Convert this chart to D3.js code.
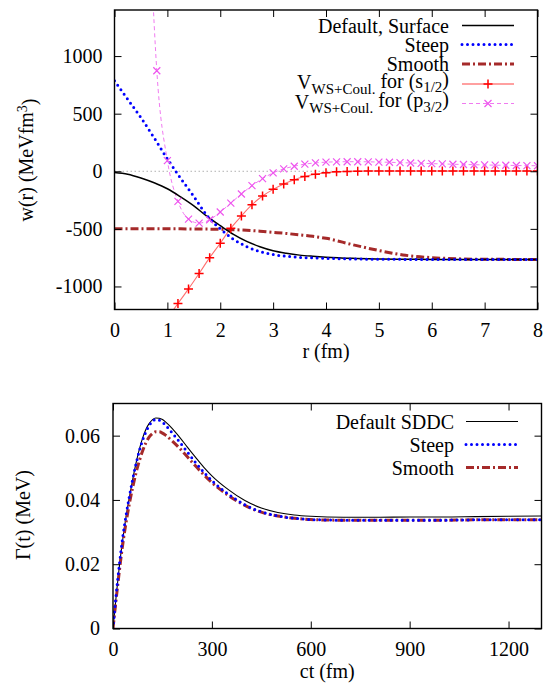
<!DOCTYPE html>
<html><head><meta charset="utf-8">
<script src="https://cdn.jsdelivr.net/npm/d3@7"></script>
<style>
body{margin:0;background:#fff}
</style>
</head><body>
<svg id="c" width="546" height="685"></svg>
<script>
// ---------- Top panel data: w(r) in MeV fm^3 ----------
const rCurve   = [0,0.25,0.5,0.75,1,1.25,1.5,1.75,2,2.25,2.5,2.75,3,3.25,3.5,3.75,4,4.5,5,5.5,6,6.5,7,7.5,8];
const wDefault = [-10,-25,-58,-100,-152,-222,-300,-392,-472,-548,-609,-655,-690,-712,-728,-738,-746,-756,-761,-764,-765,-766,-766,-766,-766];
const wSteep   = [785,625,465,290,108,-60,-218,-385,-500,-590,-654,-697,-723,-738,-747,-752,-756,-761,-764,-765,-766,-766,-766,-766,-766];
const wSmooth  = [-500,-500,-500,-500,-500,-500,-501,-502,-504,-507,-512,-520,-530,-540,-552,-565,-582,-637,-688,-729,-750,-760,-764,-765,-766];

const rS12 = [1.0,1.2,1.4,1.6,1.8,2.0,2.2,2.4,2.6,2.8,3.0,3.2,3.4,3.6,3.8,4.0,4.2,4.4,4.6,4.8,5.0,5.2,5.4,5.6,5.8,6.0,6.2,6.4,6.6,6.8,7.0,7.2,7.4,7.6,7.8,8.0];
const vS12 = [-1275,-1148,-1021,-887,-750,-625,-494,-388,-290,-215,-157,-110,-73,-46,-26,-12,-5,-1,1,2,2,2,2,2,2,2,2,2,2,2,2,2,2,2,2,2];

const rP32 = [0.6,0.8,1.0,1.2,1.4,1.6,1.8,2.0,2.2,2.4,2.6,2.8,3.0,3.2,3.4,3.6,3.8,4.0,4.2,4.4,4.6,4.8,5.0,5.2,5.4,5.6,5.8,6.0,6.2,6.4,6.6,6.8,7.0,7.2,7.4,7.6,7.8,8.0];
const vP32 = [2900,873,93,-262,-415,-450,-421,-354,-276,-197,-125,-64,-14,21,44,62,73,79,82,83,83,82,80,78,75,72,69,66,64,61,59,57,55,53,52,50,49,48];

const topXTicks = [0,1,2,3,4,5,6,7,8];
const topYTicks = [-1000,-500,0,500,1000];

// ---------- Bottom panel data: Gamma(t) in MeV ----------
const tGrid    = [0,10,20,30,40,50,60,70,80,90,100,110,120,130,140,150,160,180,200,225,250,275,300,350,400,450,500,550,600,700,800,900,1000,1100,1200,1300];
const gDefault = [0,0.0105,0.020,0.028,0.035,0.041,0.0465,0.0515,0.0558,0.0593,0.062,0.0638,0.065,0.0655,0.0654,0.065,0.0642,0.0622,0.0598,0.0565,0.0533,0.0502,0.0475,0.0432,0.0398,0.0375,0.0361,0.0353,0.0349,0.0346,0.0346,0.0347,0.0347,0.0348,0.0349,0.0350];
const gSteep   = [0,0.011,0.0205,0.0288,0.0355,0.0413,0.0466,0.0513,0.0553,0.0586,0.0612,0.0632,0.0645,0.065,0.0648,0.0642,0.0632,0.0608,0.0583,0.055,0.0517,0.0487,0.046,0.0418,0.0385,0.0363,0.035,0.0343,0.0339,0.0337,0.0337,0.0337,0.0337,0.0338,0.0338,0.0338];
const gSmooth  = [0,0.0095,0.0185,0.0265,0.0332,0.039,0.044,0.0485,0.0522,0.0553,0.0578,0.0596,0.0607,0.0612,0.0612,0.0608,0.0601,0.0583,0.0563,0.0535,0.0506,0.0479,0.0454,0.0414,0.0383,0.0362,0.035,0.0343,0.0339,0.0337,0.0337,0.0337,0.0337,0.0338,0.0338,0.0338];

const botXTicks = [0,300,600,900,1200];
const botYTicks = [0,0.02,0.04,0.06];

// ---------- drawing ----------
const FONT = "'Liberation Serif', 'DejaVu Serif', 'Noto Serif', 'Times New Roman', Times, 'Nimbus Roman', 'Nimbus Roman No9 L', FreeSerif, Tinos, serif";
const svg = d3.select("#c").style("font-family", FONT);
const FS = 20;
const TICK = 7;

function frameAxes(g, x, y, xt, yt, yfmt, xPad, yPad) {
  const [x0,x1] = x.range(), [y0,y1] = y.range();
  const styleAxis = sel => {
    sel.attr("font-family", null).attr("font-size", null);
    sel.select(".domain").remove();
    sel.selectAll(".tick line").attr("stroke","#000").attr("stroke-width",1);
    sel.selectAll("text").attr("fill","#000").style("font-family",FONT).style("font-size",FS+"px");
  };
  g.append("g").attr("transform",`translate(0,${y0})`)
    .call(d3.axisBottom(x).tickValues(xt).tickSize(-TICK).tickPadding(xPad).tickFormat(d => String(d)))
    .call(styleAxis);
  g.append("g").attr("transform",`translate(0,${y1})`)
    .call(d3.axisTop(x).tickValues(xt).tickSize(-TICK).tickFormat(""))
    .call(styleAxis);
  g.append("g").attr("transform",`translate(${x0},0)`)
    .call(d3.axisLeft(y).tickValues(yt).tickSize(-TICK).tickPadding(yPad).tickFormat(yfmt))
    .call(styleAxis);
  g.append("g").attr("transform",`translate(${x1},0)`)
    .call(d3.axisRight(y).tickValues(yt).tickSize(-TICK).tickFormat(""))
    .call(styleAxis);
  g.append("rect").attr("x",x0).attr("y",y1).attr("width",x1-x0).attr("height",y0-y1)
    .attr("fill","none").attr("stroke","#000").attr("stroke-width",1.4);
}

function txt(g, x, y, s, anchor) {
  return g.append("text").attr("x",x).attr("y",y).attr("text-anchor",anchor||"middle")
    .style("font-family",FONT).style("font-size",FS+"px").attr("fill","#000").text(s);
}

// ===== Top panel =====
const xT = d3.scaleLinear().domain([0,8]).range([114.5,537.5]);
const yT = d3.scaleLinear().domain([-1200,1400]).range([309.5,10]);
const gT = svg.append("g");
svg.append("clipPath").attr("id","clipT").append("rect")
  .attr("x",114.5).attr("y",10).attr("width",423).attr("height",299.5);

const plotT = gT.append("g").attr("clip-path","url(#clipT)");
plotT.append("line").attr("x1",xT(0)).attr("x2",xT(8)).attr("y1",yT(0)).attr("y2",yT(0))
  .attr("stroke","#b0b0b0").attr("stroke-width",1).attr("stroke-dasharray","1.5,2.5");

const lineT = (xs, ys) => d3.line().x((d,i)=>xT(xs[i])).y(d=>yT(d)).curve(d3.curveMonotoneX)(ys);

plotT.append("path").attr("d",lineT(rP32,vP32)).attr("fill","none")
  .attr("stroke","#f07af0").attr("stroke-width",1).attr("stroke-dasharray","4,3");
plotT.append("path").attr("d",lineT(rS12,vS12)).attr("fill","none")
  .attr("stroke","#ff7070").attr("stroke-width",1.1);
plotT.append("path").attr("d",lineT(rCurve,wSmooth)).attr("fill","none")
  .attr("stroke","#a52a2a").attr("stroke-width",3).attr("stroke-dasharray","8,3,2,3");
plotT.append("path").attr("d",lineT(rCurve,wDefault)).attr("fill","none")
  .attr("stroke","#000").attr("stroke-width",1.5);
plotT.append("path").attr("d",lineT(rCurve,wSteep)).attr("fill","none")
  .attr("stroke","#0000ff").attr("stroke-width",3).attr("stroke-linecap","round").attr("stroke-dasharray","0,5.5");

const plusPath = "M-4.5,0H4.5M0,-4.5V4.5";
const crossPath = "M-3.5,-3.5L3.5,3.5M-3.5,3.5L3.5,-3.5";
plotT.selectAll(".mp").data(vP32).join("path").attr("class","mp")
  .attr("transform",(d,i)=>`translate(${xT(rP32[i])},${yT(d)})`)
  .attr("d",crossPath).attr("stroke","#ee55ee").attr("stroke-width",1.2).attr("fill","none");
plotT.selectAll(".ms").data(vS12).join("path").attr("class","ms")
  .attr("transform",(d,i)=>`translate(${xT(rS12[i])},${yT(d)})`)
  .attr("d",plusPath).attr("stroke","#ff0000").attr("stroke-width",1.5).attr("fill","none");

frameAxes(gT, xT, yT, topXTicks, topYTicks, d => String(d), 13, 12);

txt(gT, 326, 358, "r (fm)");
const ylT = gT.append("text").attr("transform","translate(33,160) rotate(-90)").attr("text-anchor","middle")
  .style("font-family",FONT).style("font-size",FS+"px").attr("fill","#000");
ylT.append("tspan").text("w(r) (MeVfm");
ylT.append("tspan").attr("dy","-0.45em").style("font-size","14px").text("3");
ylT.append("tspan").attr("dy","0.45em").text(")");

// legend top
const legT = gT.append("g");
const legTX = 449, legL0 = 462, legL1 = 514;
const legRowsT = [
  {y:25.5, off:7, parts:[["Default, Surface",0]], stroke:"#000", w:1.5, dash:null},
  {y:44.5, off:7, parts:[["Steep",0]], stroke:"#0000ff", w:3, dash:"0,5.5", cap:"round"},
  {y:64, off:7, parts:[["Smooth",0]], stroke:"#a52a2a", w:3, dash:"8,3,2,3"},
  {y:84, off:5, parts:[["V",0],["WS+Coul.",1],[" for (s",0],["1/2",1],[")",0]], stroke:"#ff8080", w:1.6, dash:null, mk:plusPath, mkc:"#ff0000", mkw:1.5},
  {y:103.5, off:5, parts:[["V",0],["WS+Coul.",1],[" for (p",0],["3/2",1],[")",0]], stroke:"#f07af0", w:1, dash:"4,3", mk:crossPath, mkc:"#ee55ee", mkw:1.2}
];
legRowsT.forEach(r=>{
  const t = txt(legT, legTX, r.y+r.off, null, "end");
  let sub = false;
  r.parts.forEach(([s,isSub])=>{
    const ts = t.append("tspan").text(s);
    if (isSub) { ts.style("font-size","15px"); if (!sub) { ts.attr("dy","0.3em"); sub = true; } }
    else if (sub) { ts.attr("dy","-0.3em"); sub = false; }
  });
  const ln = legT.append("line").attr("x1",legL0).attr("x2",legL1).attr("y1",r.y).attr("y2",r.y)
    .attr("stroke",r.stroke).attr("stroke-width",r.w);
  if (r.dash) ln.attr("stroke-dasharray",r.dash);
  if (r.cap) ln.attr("stroke-linecap",r.cap);
  if (r.mk) legT.append("path").attr("transform",`translate(${(legL0+legL1)/2},${r.y})`).attr("d",r.mk)
    .attr("stroke",r.mkc).attr("stroke-width",r.mkw).attr("fill","none");
});

// ===== Bottom panel =====
const xB = d3.scaleLinear().domain([0,1300]).range([113,541.5]);
const yB = d3.scaleLinear().domain([0,0.07]).range([628.5,403.5]);
const gB = svg.append("g");
svg.append("clipPath").attr("id","clipB").append("rect")
  .attr("x",113).attr("y",403.5).attr("width",428.5).attr("height",225);
const plotB = gB.append("g").attr("clip-path","url(#clipB)");
const lineB = ys => d3.line().x((d,i)=>xB(tGrid[i])).y(d=>yB(d)).curve(d3.curveMonotoneX)(ys);

plotB.append("path").attr("d",lineB(gDefault)).attr("fill","none").attr("stroke","#000").attr("stroke-width",1.1);
plotB.append("path").attr("d",lineB(gSmooth)).attr("fill","none").attr("stroke","#a52a2a").attr("stroke-width",3).attr("stroke-dasharray","8,3,2,3");
plotB.append("path").attr("d",lineB(gSteep)).attr("fill","none").attr("stroke","#0000ff").attr("stroke-width",3)
  .attr("stroke-linecap","round").attr("stroke-dasharray","0,5.5");

frameAxes(gB, xB, yB, botXTicks, botYTicks, d=> d===0 ? "0" : d3.format(".2f")(d), 13.5, 13);

txt(gB, xB(650), 678, "ct (fm)");
gB.append("text").attr("transform","translate(30,515) rotate(-90)").attr("text-anchor","middle")
  .style("font-family",FONT).style("font-size",FS+"px").attr("fill","#000").text("Γ(t) (MeV)");

const legB = gB.append("g");
const legBX = 454, lb0 = 466, lb1 = 518;
const legRowsB = [
  {y:421.5, label:"Default SDDC", stroke:"#000", w:1.2},
  {y:444.5, label:"Steep", stroke:"#0000ff", w:3, dash:"0,5.5", cap:"round"},
  {y:467.5, label:"Smooth", stroke:"#a52a2a", w:3, dash:"8,3,2,3"}
];
legRowsB.forEach(r=>{
  txt(legB, legBX, r.y+7, r.label, "end");
  const ln = legB.append("line").attr("x1",lb0).attr("x2",lb1).attr("y1",r.y).attr("y2",r.y)
    .attr("stroke",r.stroke).attr("stroke-width",r.w);
  if (r.dash) ln.attr("stroke-dasharray",r.dash);
  if (r.cap) ln.attr("stroke-linecap",r.cap);
});
</script>
</body></html>
